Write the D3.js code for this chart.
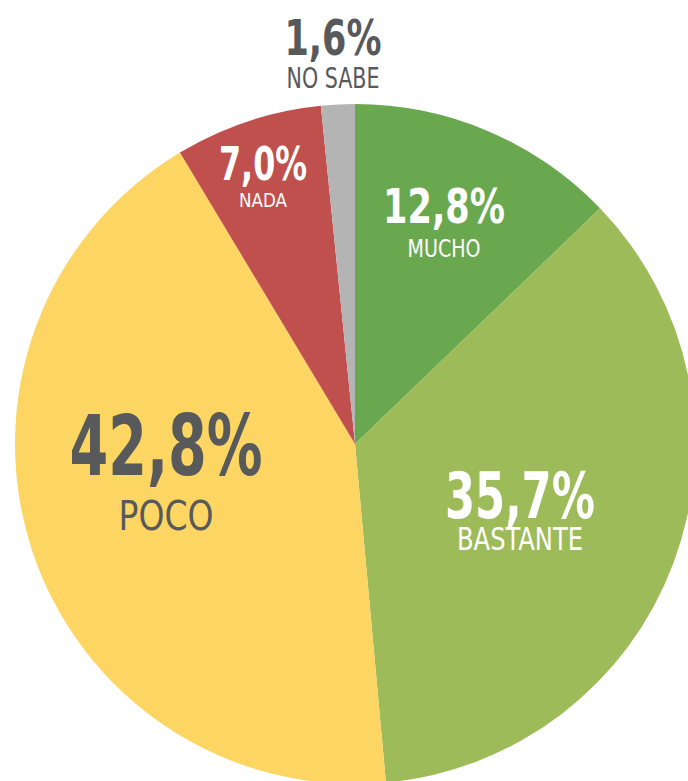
<!DOCTYPE html>
<html>
<head>
<meta charset="utf-8">
<script src="https://cdn.jsdelivr.net/npm/d3@7"></script>
<style>
  body { margin: 0; background: #fff; }
  text { font-family: "Liberation Sans Narrow", "DejaVu Sans Condensed", "Liberation Sans", sans-serif; }
</style>
</head>
<body>
<div class="chart"></div>
<script>
// data
const categories = ['MUCHO', 'BASTANTE', 'POCO', 'NADA', 'NO SABE'];
const values = [12.8, 35.7, 42.8, 7.0, 1.6];
const colors = ['#6aa84f', '#9dbb59', '#fdd562', '#c0504d', '#b4b4b4'];
const valueLabels = ['12,8%', '35,7%', '42,8%', '7,0%', '1,6%'];

// label layout: [centre x, value baseline, value cap height, value width, name top, name cap, name width, colour]
const labelLayout = [
  [444, 223, 35, 122, 239, 18, 73, '#fff'],
  [520, 518, 46, 150, 527, 23, 126, '#fff'],
  [166, 475, 60, 193, 500, 30, 95, '#58595b'],
  [263, 180, 33, 88, 193, 14, 48, '#fff'],
  [333, 55, 36, 97, 68, 20, 93, '#58595b']
];

const width = 688, height = 781;
const cx = 355, cy = 444, radius = 340;

const svg = d3.select('.chart').append('svg')
    .attr('width', width)
    .attr('height', height);

const pie = d3.pie().sort(null).value(d => d);
const arc = d3.arc().innerRadius(0).outerRadius(radius);

const g = svg.append('g')
    .attr('transform', `translate(${cx},${cy})`);

g.selectAll('path')
    .data(pie(values))
    .enter()
    .append('path')
    .attr('d', arc)
    .attr('fill', (d, i) => colors[i]);

const capRatio = 0.72;

svg.selectAll('.val')
    .data(labelLayout)
    .enter()
    .append('text')
    .attr('class', 'val')
    .attr('x', d => d[0])
    .attr('y', d => d[1])
    .attr('text-anchor', 'middle')
    .attr('font-weight', 'bold')
    .attr('font-size', d => d[2] / capRatio)
    .attr('fill', d => d[7])
    .attr('textLength', d => d[3])
    .attr('lengthAdjust', 'spacingAndGlyphs')
    .text((d, i) => valueLabels[i]);

svg.selectAll('.name')
    .data(labelLayout)
    .enter()
    .append('text')
    .attr('class', 'name')
    .attr('x', d => d[0])
    .attr('y', d => d[4] + d[5])
    .attr('text-anchor', 'middle')
    .attr('font-size', d => d[5] / capRatio)
    .attr('fill', d => d[7])
    .attr('textLength', d => d[6])
    .attr('lengthAdjust', 'spacingAndGlyphs')
    .text((d, i) => categories[i]);
</script>
</body>
</html>
